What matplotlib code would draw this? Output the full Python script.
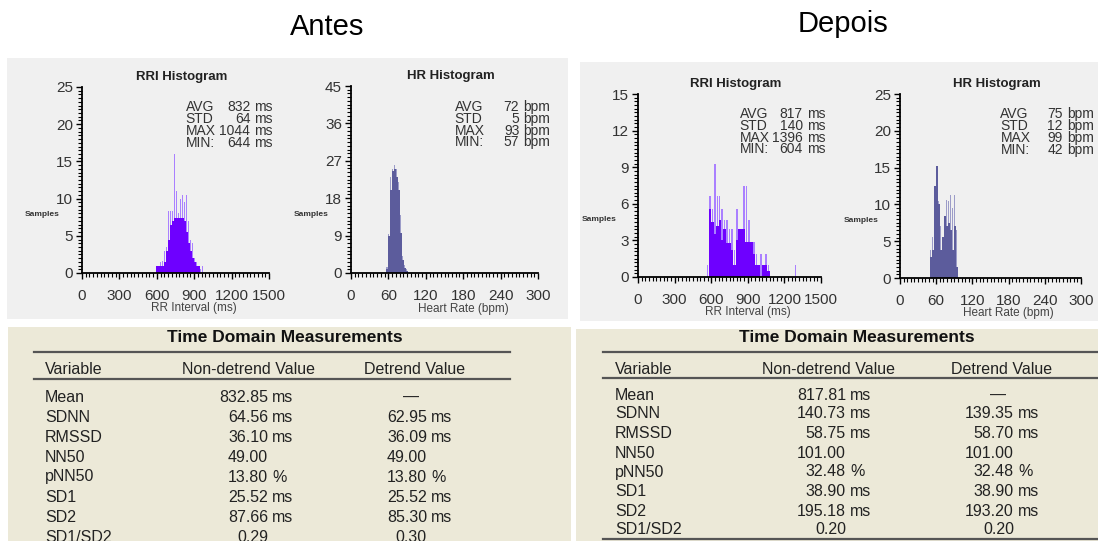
import matplotlib
matplotlib.use("Agg")
import matplotlib.pyplot as plt
from matplotlib.patches import Rectangle
from matplotlib.lines import Line2D

W, H = 1098, 541

# ---- histogram data ----
antes_rri_bins = [600, 616, 632, 648, 664, 680, 696, 712, 728, 744, 760, 776,
                  792, 808, 824, 840, 856, 872, 888, 904, 920, 936, 952, 968]
antes_rri_core = [1, 1, 1, 1, 1.5, 3, 4.5, 6.5, 7, 7.4, 7.4, 7.4,
                  7.4, 7.4, 7, 5.5, 4, 3, 2, 1.5, 1, 1, 0, 0]
antes_rri_peak = [1, 1, 1.5, 1.6, 3, 3.5, 8.3, 8.3, 8.3, 16, 11, 8,
                  10, 10.5, 9.5, 10.5, 7, 4.5, 4, 2, 1.5, 1, 0.5, 1]

antes_hr_bins = [57.6, 60.8, 64, 67.2, 70.4, 73.6, 76.8, 80, 83.2, 86.4, 89.6]
antes_hr_core = [1, 8.8, 20, 24.5, 25, 23, 20, 9.6, 3.2, 1.2, 0.5]
antes_hr_peak = [1.5, 9.5, 23, 25, 26, 25, 22, 14, 4, 2, 1]

depois_rri_bins = [570, 590, 610, 630, 650, 670, 690, 710, 730, 750, 770, 790, 810,
                   830, 850, 870, 890, 910, 930, 950, 970, 990, 1010, 1030, 1050,
                   1070, 1290]
depois_rri_core = [0, 5.6, 4.5, 3.5, 4.2, 4.7, 3, 3.9, 2.8, 2.8, 2.2, 1, 3,
                   3.9, 3.9, 3.9, 2.9, 2.9, 2.9, 1.9, 1, 1, 0, 1, 1,
                   0.5, 0]
depois_rri_peak = [1, 6.6, 5.6, 9.3, 6.6, 6.6, 5.6, 4.7, 4.7, 3.9, 3.9, 2.2, 5.6,
                   3.9, 3.9, 7.5, 7.5, 4.7, 2.9, 2.9, 1.9, 1, 1.9, 1, 1.9,
                   1, 1]

depois_hr_bins = [51, 54.3, 57.6, 60.9, 64.2, 67.5, 70.8, 74.1, 77.4, 80.7, 84, 87.3, 90.6, 93.9]
depois_hr_core = [2.9, 3.8, 12.5, 15.2, 10, 3.8, 5.6, 8.4, 7, 7.5, 6.5, 3.8, 7, 1.5]
depois_hr_peak = [3.8, 5.6, 12.5, 15.2, 10.5, 7, 5.6, 8.4, 10.6, 10.4, 11.3, 9.5, 11.3, 6.5]

stat_labels = ["AVG", "STD", "MAX", "MIN:"]
antes_rri_stats = ["832", "64", "1044", "644"]
antes_hr_stats = ["72", "5", "93", "57"]
depois_rri_stats = ["817", "140", "1396", "604"]
depois_hr_stats = ["75", "12", "99", "42"]

# ---- table data ----
variables = ["Mean", "SDNN", "RMSSD", "NN50", "pNN50", "SD1", "SD2", "SD1/SD2"]
units = ["ms", "ms", "ms", "", "%", "ms", "ms", ""]
antes_nondetrend = ["832.85", "64.56", "36.10", "49.00", "13.80", "25.52", "87.66", "0.29"]
antes_detrend = ["—", "62.95", "36.09", "49.00", "13.80", "25.52", "85.30", "0.30"]
depois_nondetrend = ["817.81", "140.73", "58.75", "101.00", "32.48", "38.90", "195.18", "0.20"]
depois_detrend = ["—", "139.35", "58.70", "101.00", "32.48", "38.90", "193.20", "0.20"]

NARROW = ["Liberation Sans Narrow", "Liberation Sans", "DejaVu Sans"]
plt.rcParams["font.family"] = ["Liberation Sans", "DejaVu Sans"]


def fx(x):
    return x / W


def fy(y):
    return 1 - y / H


def box(fig, x0, y0, x1, y1, color):
    fig.add_artist(Rectangle((fx(x0), fy(y1)), fx(x1) - fx(x0), fy(y0) - fy(y1),
                             transform=fig.transFigure, facecolor=color,
                             edgecolor="none", zorder=-5))


def hline(fig, x0, x1, y):
    fig.add_artist(Line2D([fx(x0), fx(x1)], [fy(y), fy(y)], transform=fig.transFigure,
                          color="#555555", lw=1.6))


def histogram(fig, px, bins, core, peak, width, dark, light, xmax, ymax,
              title, xlabel, stats, unit):
    x0, y0, x1, y1 = px
    ax = fig.add_axes([fx(x0), fy(y1), fx(x1) - fx(x0), fy(y0) - fy(y1)])
    ax.set_facecolor("none")
    ax.bar(bins, peak, width=width * 0.6, color=light, linewidth=0)
    ax.bar(bins, core, width=width, color=dark, linewidth=0)
    ax.set_xlim(0, xmax)
    ax.set_ylim(0, ymax)
    ax.set_xticks([xmax * i / 5 for i in range(6)])
    ax.set_xticks([xmax * i / 50 for i in range(51)], minor=True)
    ax.set_yticks([ymax * i / 5 for i in range(6)])
    ax.set_yticks([ymax * i / 50 for i in range(51)], minor=True)
    ax.set_xticklabels([str(int(v)) for v in ax.get_xticks()])
    ax.set_yticklabels([str(int(v)) for v in ax.get_yticks()])
    for s in ["top", "right"]:
        ax.spines[s].set_visible(False)
    for s in ["left", "bottom"]:
        ax.spines[s].set_linewidth(1.3)
    ax.tick_params(which="major", length=4.5, width=1, labelsize=11, labelcolor="#333333")
    ax.tick_params(which="minor", length=3, width=0.8)
    ax.tick_params(axis="x", which="major", pad=7)
    ax.tick_params(axis="y", which="major", pad=2)
    for lab in ax.get_xticklabels() + ax.get_yticklabels():
        lab.set_family(NARROW)
    ax.text(0.535, 1.052, title, transform=ax.transAxes, ha="center", va="center",
            fontsize=9.5, fontweight="bold", color="#222222")
    ax.text(0.6, -0.19, xlabel, transform=ax.transAxes, ha="center", va="center",
            fontsize=8.5, color="#444444")
    ax.text(-0.215, 0.315, "Samples", transform=ax.transAxes, ha="center", va="center",
            fontsize=6, fontweight="bold", color="#333333")
    for i, (lab, val) in enumerate(zip(stat_labels, stats)):
        yy = 0.89 - i * 0.064
        kw = dict(transform=ax.transAxes, va="center", fontsize=10,
                  color="#333333", family=NARROW, clip_on=False)
        ax.text(0.555, yy, lab, ha="left", **kw)
        ax.text(0.9, yy, val, ha="right", **kw)
        ax.text(0.922, yy, unit, ha="left", **kw)
    return ax


def table(fig, xline0, xline1, title_x, title_y, line1_y, head_y, line2_y,
          var_x, col1_x, col2_x, row_y, nondet, det, bottom_y=None):
    fig.text(fx(title_x), fy(title_y), "Time Domain Measurements", ha="center",
             va="center", fontsize=12.5, fontweight="bold", color="#111111")
    hline(fig, xline0, xline1, line1_y)
    hline(fig, xline0, xline1, line2_y)
    if bottom_y is not None:
        hline(fig, xline0, xline1, bottom_y)
    kw = dict(va="center", fontsize=11.5, color="#222222")
    fig.text(fx(var_x), fy(head_y), "Variable", ha="left", **kw)
    fig.text(fx(col1_x[0]), fy(head_y), "Non-detrend Value", ha="center", **kw)
    fig.text(fx(col2_x[0]), fy(head_y), "Detrend Value", ha="center", **kw)
    for y, var, a, b, u in zip(row_y, variables, nondet, det, units):
        fig.text(fx(var_x), fy(y), var, ha="left", **kw)
        for (cx, right), v in [(col1_x, a), (col2_x, b)]:
            if v == "—":
                fig.text(fx(right - 16), fy(y), v, ha="center", **kw)
                continue
            fig.text(fx(right), fy(y), v, ha="right", **kw)
            if u:
                fig.text(fx(right + 4), fy(y), u, ha="left", **kw)


fig = plt.figure(figsize=(W / 100, H / 100), dpi=100)
fig.patch.set_facecolor("white")

fig.text(fx(327), fy(27), "Antes", ha="center", va="center", fontsize=21, color="black")
fig.text(fx(843), fy(24), "Depois", ha="center", va="center", fontsize=21, color="black")

box(fig, 7, 58, 568, 319, "#f0f0f0")
box(fig, 580, 62, 1098, 321, "#f0f0f0")
box(fig, 8, 327, 571, 541, "#ece9d8")
box(fig, 576, 329, 1098, 541, "#ece9d8")

RRI_DARK, RRI_LIGHT = "#6e00ff", "#aa80ff"
HR_DARK, HR_LIGHT = "#5c5c9c", "#9c9cc8"

histogram(fig, (82, 87, 269, 273), antes_rri_bins, antes_rri_core, antes_rri_peak, 16,
          RRI_DARK, RRI_LIGHT, 1500, 25, "RRI Histogram", "RR Interval (ms)",
          antes_rri_stats, "ms")
histogram(fig, (351, 86, 538, 273), antes_hr_bins, antes_hr_core, antes_hr_peak, 3.2,
          HR_DARK, HR_LIGHT, 300, 45, "HR Histogram", "Heart Rate (bpm)",
          antes_hr_stats, "bpm")
histogram(fig, (638, 94, 821, 277), depois_rri_bins, depois_rri_core, depois_rri_peak, 20,
          RRI_DARK, RRI_LIGHT, 1500, 15, "RRI Histogram", "RR Interval (ms)",
          depois_rri_stats, "ms")
histogram(fig, (900, 94, 1081, 278), depois_hr_bins, depois_hr_core, depois_hr_peak, 3.3,
          HR_DARK, HR_LIGHT, 300, 25, "HR Histogram", "Heart Rate (bpm)",
          depois_hr_stats, "bpm")

table(fig, 34, 510, 285, 338, 352, 370, 379, 45, (249, 268), (415, 427),
      [397, 417, 437, 457, 477, 497, 517, 537], antes_nondetrend, antes_detrend)
table(fig, 603, 1098, 857, 337, 352, 369, 378, 615, (828, 846), (1002, 1014),
      [395, 414, 434, 453, 472, 492, 511, 530], depois_nondetrend, depois_detrend,
      bottom_y=539)

fig.savefig("out.png", dpi=100)
